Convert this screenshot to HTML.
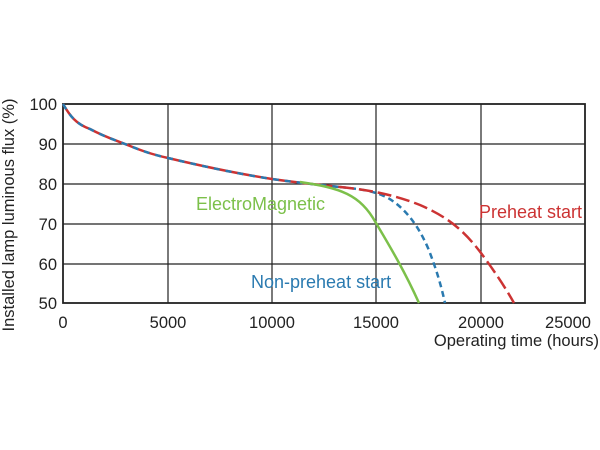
<!DOCTYPE html>
<html><head><style>body{margin:0;background:#fff}svg{display:block}</style></head><body>
<svg width="600" height="450" xmlns="http://www.w3.org/2000/svg" font-family="Liberation Sans, Arial, sans-serif">
<g stroke="#222" stroke-width="1.2" fill="none">
<rect x="63" y="104" width="522" height="199" stroke-width="1.8"/>
<line x1="168" y1="104" x2="168" y2="303"/><line x1="272" y1="104" x2="272" y2="303"/>
<line x1="376" y1="104" x2="376" y2="303"/><line x1="481" y1="104" x2="481" y2="303"/>
<line x1="63" y1="144" x2="585" y2="144"/><line x1="63" y1="184" x2="585" y2="184"/>
<line x1="63" y1="224" x2="585" y2="224"/><line x1="63" y1="264" x2="585" y2="264"/>
</g>
<g font-size="16.5" fill="#222" text-anchor="end">
<text x="57" y="110">100</text><text x="57" y="150">90</text><text x="57" y="190">80</text>
<text x="57" y="230">70</text><text x="57" y="270">60</text><text x="57" y="309">50</text>
</g>
<g font-size="16.5" fill="#222" text-anchor="middle">
<text x="63" y="328">0</text><text x="168" y="328">5000</text><text x="272" y="328">10000</text>
<text x="376" y="328">15000</text><text x="481" y="328">20000</text><text x="568" y="328">25000</text>
</g>
<text x="599" y="346" font-size="16.5" fill="#222" text-anchor="end">Operating time (hours)</text>
<text transform="translate(14,215) rotate(-90)" font-size="16.5" fill="#222" text-anchor="middle">Installed lamp luminous flux  (%)</text>
<path d="M63,104 C70,116 76,124 90,129 C105,137 115,140 125,144 C140,150 150,154 168,158 C210,168 240,174 272,179 C300,183 320,185 340,187" stroke="#c33" stroke-width="2.5" fill="none"/>
<path d="M63,104 C70,116 76,124 90,129 C105,137 115,140 125,144 C140,150 150,154 168,158 C210,168 240,174 272,179 C300,183 320,185 340,187" stroke="#2a7ab0" stroke-width="2.5" fill="none" stroke-dasharray="6,6"/>
<path d="M300,182 C340,188 360,194 376,223 C392,250 405,272 419,303" stroke="#7cc04a" stroke-width="2.5" fill="none"/>
<path d="M340,187 C360,189 375,191 388,198 C405,208 418,225 428,248 C436,268 441,285 445,303" stroke="#2a7ab0" stroke-width="2.5" fill="none" stroke-dasharray="6,4"/>
<path d="M340,187 C370,190 395,195 420,205 C450,218 465,232 481,253 C495,272 505,287 514,303" stroke="#c33" stroke-width="2.5" fill="none" stroke-dasharray="14,5"/>
<text x="196" y="210" font-size="18" fill="#7cc04a">ElectroMagnetic</text>
<text x="251" y="288" font-size="18" fill="#2a7ab0">Non-preheat start</text>
<text x="479" y="218" font-size="18" fill="#c33">Preheat start</text>
</svg>
</body></html>
